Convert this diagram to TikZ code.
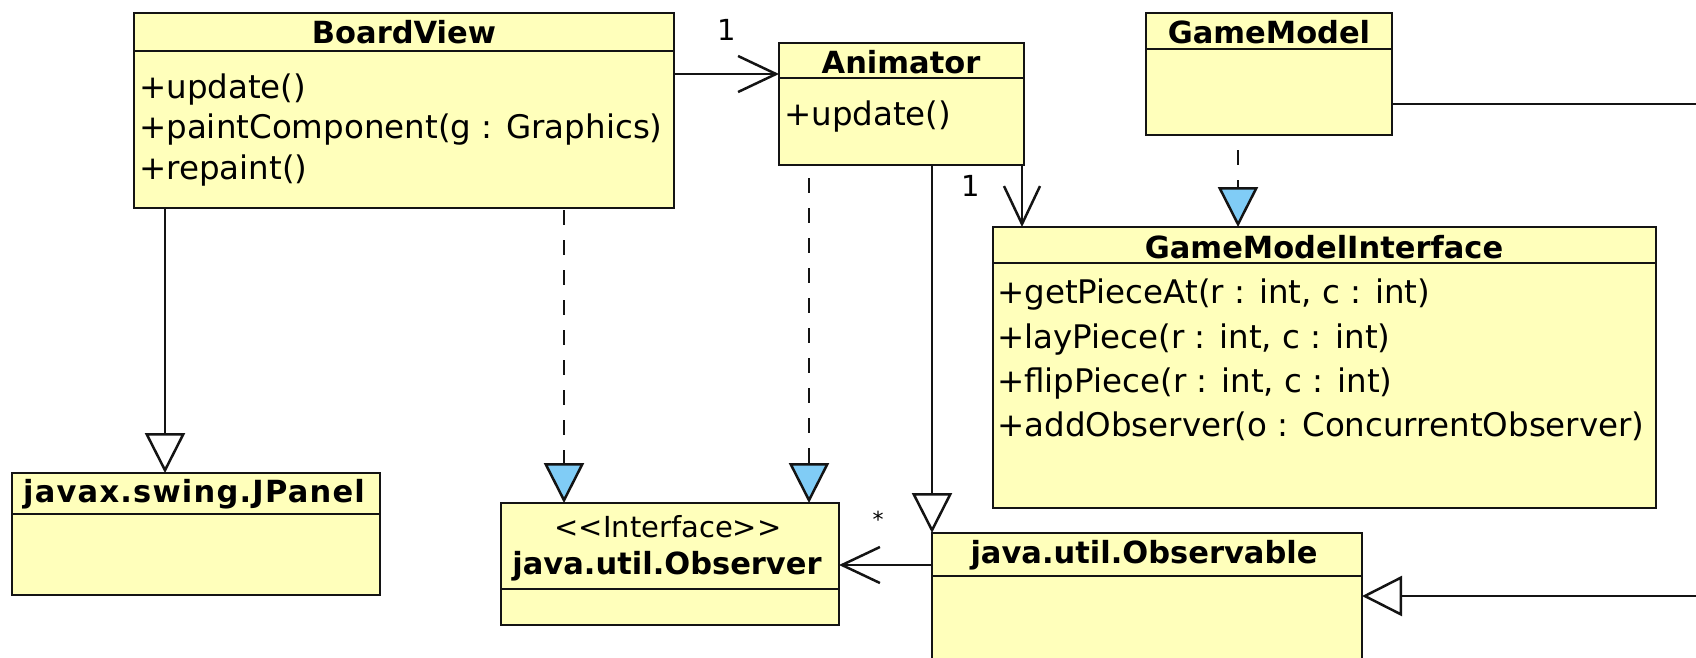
\documentclass[tikz,border=0pt]{standalone}
\usepackage{fontspec}
\setmainfont{DejaVu Sans}
\usetikzlibrary{arrows.meta}
\definecolor{classfill}{RGB}{255,255,187}
\definecolor{realblue}{RGB}{128,204,246}
\definecolor{edge}{RGB}{20,20,20}
\tikzset{
  classbox/.style={draw=edge, fill=classfill, line width=2.5pt, rectangle,
    inner sep=0pt, outer sep=0pt, anchor=north west},
  sepline/.style={draw=edge, line width=2.5pt},
  ctitle/.style={font=\fontsize{30.5}{36}\selectfont\bfseries, inner sep=0pt, anchor=center},
  cstereo/.style={font=\fontsize{29}{34}\selectfont, inner sep=0pt, anchor=center},
  member/.style={font=\fontsize{32.5}{38}\selectfont, inner sep=0pt, anchor=west},
  mult/.style={font=\fontsize{29}{34}\selectfont, inner sep=0pt, anchor=center},
  conn/.style={draw=edge, line width=2.5pt},
  assoc/.style={conn, -{Straight Barb[length=38pt,width=36pt,line width=2.5pt]}},
  gen/.style={conn, -{Triangle[open,length=40pt,width=40pt,line width=2.5pt,fill=white]}},
  real/.style={conn, dash pattern=on 15pt off 15pt,
    -{Triangle[length=40pt,width=40pt,line width=2.5pt,fill=realblue]}},
}
\begin{document}
\begin{tikzpicture}[x=1pt,y=-1pt]
\useasboundingbox (0,0) rectangle (1696,657);
\clip (0,0) rectangle (1696,657);

% class boxes
\node[classbox, minimum width=540pt, minimum height=195pt] (bv) at (134,13) {};
\node[classbox, minimum width=245pt, minimum height=122pt] (an) at (779,43) {};
\node[classbox, minimum width=246pt, minimum height=122pt] (gm) at (1146,13) {};
\node[classbox, minimum width=663pt, minimum height=281pt] (gmi) at (993,227) {};
\node[classbox, minimum width=368pt, minimum height=122pt] (jp) at (12,473) {};
\node[classbox, minimum width=338pt, minimum height=122pt] (obs) at (501,503) {};
\node[classbox, minimum width=430pt, minimum height=170pt] (obl) at (932,533) {};

% compartment separators
\draw[sepline] (bv.west |- 0,51) -- (bv.east |- 0,51);
\draw[sepline] (an.west |- 0,78) -- (an.east |- 0,78);
\draw[sepline] (gm.west |- 0,49) -- (gm.east |- 0,49);
\draw[sepline] (gmi.west |- 0,263) -- (gmi.east |- 0,263);
\draw[sepline] (jp.west |- 0,514) -- (jp.east |- 0,514);
\draw[sepline] (obs.west |- 0,589) -- (obs.east |- 0,589);
\draw[sepline] (obl.west |- 0,576) -- (obl.east |- 0,576);

% titles
\node[ctitle] (bvT) at (404,32) {BoardView};
\node[ctitle] (anT) at (901,62) {Animator};
\node[ctitle] (gmT) at (1269,32) {GameModel};
\node[ctitle] (gmiT) at (1324,247) {GameModelInterface};
\node[ctitle] (jpT) at (194,494) {\addfontfeature{LetterSpace=4}javax.swing.JPanel};
\node[cstereo] (obsS) at (668,527) {{<}{<}Interface{>}{>}};
\node[ctitle] (obsT) at (667,566) {java.util.Observer};
\node[ctitle] (oblT) at (1144,555) {java.util.Observable};

% operations
\node[member] (bv1) at (139,90) {+update()};
\node[member] (bv2) at (139,130) {+paintComponent(g : Graphics)};
\node[member] (bv3) at (139,171) {+repaint()};
\node[member] (an1) at (784,117) {+update()};
\node[member] (gmi1) at (997,295) {+getPieceAt(r : int, c : int)};
\node[member] (gmi2) at (997,340) {+layPiece(r : int, c : int)};
\node[member] (gmi3) at (997,384) {+flipPiece(r : int, c : int)};
\node[member] (gmi4) at (997,426) {+addObserver(o : ConcurrentObserver)};

% free ends of the lines leaving to the right
\coordinate (gmOut) at (1696,104);
\coordinate (oblIn) at (1696,596);

% relationships
\draw[assoc] (bv.east |- 0,74) -- (an.west |- 0,74);
\node[mult] (m1) at (727,30) {1};
\draw[gen] (bv.south -| 165,0) -- (jp.north -| 165,0);
\draw[real, dash phase=28pt] (bv.south -| 564,0) -- (obs.north -| 564,0);
\draw[real, dash phase=17pt] (an.south -| 809,0) -- (obs.north -| 809,0);
\draw[gen] (an.south -| obl.west) -- (obl.north west);
\draw[assoc] (an.south -| 1022,0) -- (gmi.north -| 1022,0);
\node[mult] (m2) at (971,186) {1};
\draw[real, dash phase=15pt] (gm.south -| 1238,0) -- (gmi.north -| 1238,0);
\draw[conn] (gm.east |- gmOut) -- (gmOut);
\draw[gen] (oblIn) -- (obl.east |- oblIn);
\draw[assoc] (obl.west |- 0,565) -- (obs.east |- 0,565);
\node[mult, font=\fontsize{22}{26}\selectfont] (m3) at (878,519) {*};
\end{tikzpicture}
\end{document}
